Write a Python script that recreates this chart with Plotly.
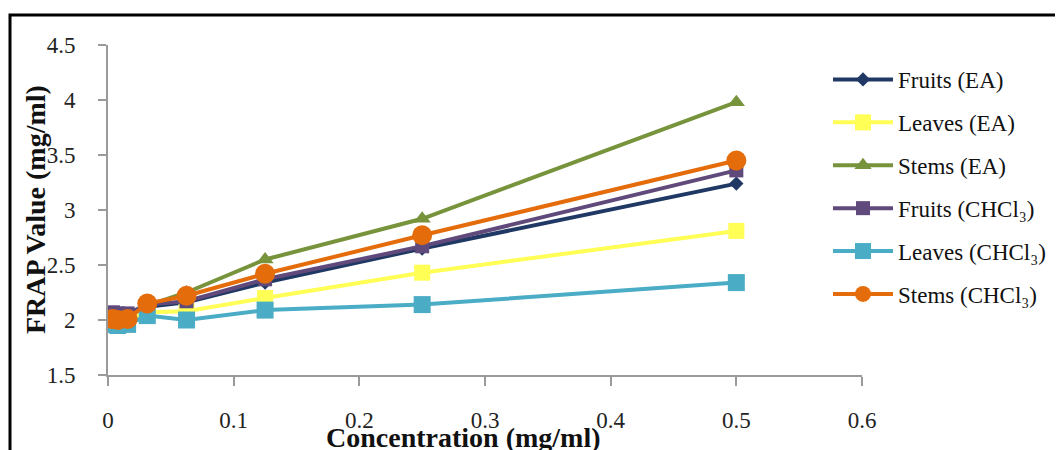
import plotly.graph_objects as go

conc = [0.0039, 0.0078, 0.0156, 0.03125, 0.0625, 0.125, 0.25, 0.5]

series_names = ["Fruits (EA)", "Leaves (EA)", "Stems (EA)",
                "Fruits (CHCl₃)", "Leaves (CHCl₃)", "Stems (CHCl₃)"]
fruits_ea = [2.05, 2.05, 2.05, 2.12, 2.16, 2.34, 2.65, 3.24]
leaves_ea = [1.98, 1.98, 2.00, 2.07, 2.08, 2.20, 2.43, 2.81]
stems_ea = [2.02, 2.02, 2.03, 2.13, 2.25, 2.55, 2.92, 3.98]
fruits_chcl3 = [2.07, 2.06, 2.06, 2.14, 2.17, 2.37, 2.67, 3.36]
leaves_chcl3 = [1.96, 1.95, 1.96, 2.04, 2.00, 2.09, 2.14, 2.34]
stems_chcl3 = [2.01, 2.00, 2.01, 2.15, 2.22, 2.42, 2.77, 3.45]

x_ticks = [0, 0.1, 0.2, 0.3, 0.4, 0.5, 0.6]
x_ticklabels = ["0", "0.1", "0.2", "0.3", "0.4", "0.5", "0.6"]
y_ticks = [1.5, 2, 2.5, 3, 3.5, 4, 4.5]
y_ticklabels = ["1.5", "2", "2.5", "3", "3.5", "4", "4.5"]

values = [fruits_ea, leaves_ea, stems_ea, fruits_chcl3, leaves_chcl3, stems_chcl3]
colors = ["#1F3864", "#FFFF55", "#77933C", "#604A7B", "#4BACC6", "#E46C0A"]
symbols = ["diamond", "square", "triangle-up", "square", "square", "circle"]
sizes = [11, 16, 15, 14, 17, 20]

FONT = "Liberation Serif"

# page body has an 8px margin, so the figure is sized/offset to compensate
W, H = 1055, 442
L, R, T, B = 100, 201, 37, 75
PW, PH = W - L - R, H - T - B

fig = go.Figure()
for i, (name, vals) in enumerate(zip(series_names, values)):
    fig.add_trace(go.Scatter(
        x=conc, y=vals, name=name, mode="lines+markers",
        line=dict(color=colors[i], width=4),
        marker=dict(symbol=symbols[i], size=sizes[i], color=colors[i]),
        legendgroup=f"g{i}",
    ))

fig.update_layout(
    width=W, height=H,
    margin=dict(l=L, r=R, t=T, b=B),
    paper_bgcolor="white", plot_bgcolor="white",
    font=dict(family=FONT, size=22, color="#222222"),
    showlegend=True,
    legend=dict(x=(820 - L) / PW, y=(T + PH - 50) / PH, xanchor="left", yanchor="top",
                font=dict(family=FONT, size=23, color="#111111"),
                traceorder="grouped", tracegroupgap=10,
                itemwidth=60, bgcolor="rgba(0,0,0,0)"),
    xaxis=dict(range=[0, 0.6], tickvals=x_ticks, ticktext=x_ticklabels,
               showgrid=False, zeroline=False, showline=True,
               linecolor="#9A9A9A", linewidth=2, ticks="outside",
               tickcolor="#9A9A9A", ticklen=9, tickwidth=1.5,
               ticklabelstandoff=14,
               tickfont=dict(family=FONT, size=23, color="#222222")),
    yaxis=dict(range=[1.5, 4.5], tickvals=y_ticks, ticktext=y_ticklabels,
               showgrid=False, zeroline=False, showline=True,
               linecolor="#9A9A9A", linewidth=2, ticks="outside",
               tickcolor="#9A9A9A", ticklen=8, tickwidth=1.5,
               ticklabelstandoff=18,
               tickfont=dict(family=FONT, size=23, color="#222222")),
    shapes=[dict(type="rect", xref="paper", yref="paper",
                 x0=(2 - L) / PW, x1=(1054 - L) / PW,
                 y0=-0.5, y1=(T + PH - 7) / PH,
                 line=dict(color="black", width=3), fillcolor="rgba(0,0,0,0)",
                 layer="above")],
    annotations=[
        dict(text="<b>Concentration (mg/ml)</b>", xref="paper", yref="paper",
             x=(455 - L) / PW, y=-(429 - (T + PH)) / PH, xanchor="center", yanchor="middle",
             showarrow=False, font=dict(family=FONT, size=28, color="#111111")),
        dict(text="<b>FRAP Value (mg/ml)</b>", xref="paper", yref="paper",
             x=(27 - L) / PW, y=0.5, xanchor="center", yanchor="middle",
             textangle=-90, showarrow=False,
             font=dict(family=FONT, size=28, color="#111111")),
    ],
)

fig.write_html("out.html")
